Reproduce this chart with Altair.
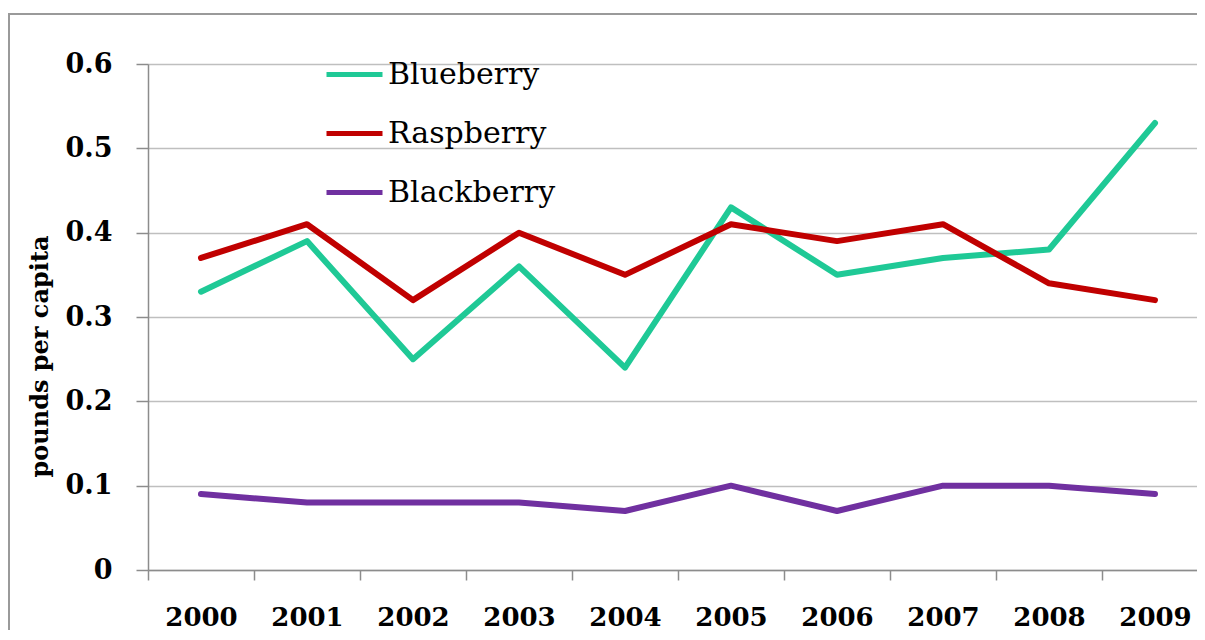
import altair as alt
import pandas as pd

years = ["2000", "2001", "2002", "2003", "2004", "2005", "2006", "2007", "2008", "2009"]
blueberry = [0.33, 0.39, 0.25, 0.36, 0.24, 0.43, 0.35, 0.37, 0.38, 0.53]
raspberry = [0.37, 0.41, 0.32, 0.40, 0.35, 0.41, 0.39, 0.41, 0.34, 0.32]
blackberry = [0.09, 0.08, 0.08, 0.08, 0.07, 0.10, 0.07, 0.10, 0.10, 0.09]

series_names = ["Blueberry", "Raspberry", "Blackberry"]
series_colors = ["#1fc996", "#c00000", "#7030a0"]

rows = []
for name, vals in zip(series_names, [blueberry, raspberry, blackberry]):
    for y, v in zip(years, vals):
        rows.append({"year": y, "value": v, "fruit": name})
df = pd.DataFrame(rows)

W, H = 1049, 506
XR = 1060

frame = alt.Chart(pd.DataFrame({"a": [0]})).mark_rect(
    fill=None, stroke="#9a9a9a", strokeWidth=2, clip=False
).encode(
    x=alt.value(-139), x2=alt.value(W + 200),
    y=alt.value(-50), y2=alt.value(H + 200)
)

lines = alt.Chart(df).mark_line(strokeWidth=6, strokeCap="round", strokeJoin="round").encode(
    x=alt.X("year:N", sort=years,
            scale=alt.Scale(paddingInner=0, paddingOuter=0, range=[0, XR]),
            axis=alt.Axis(title=None, labelAngle=0, tickBand="extent",
                          labelFont="DejaVu Serif", labelFontWeight="bold",
                          labelFontSize=26, labelColor="black", labelPadding=24,
                          labelLimit=0,
                          tickSize=10, tickColor="#8c8c8c", domainColor="#8c8c8c",
                          tickWidth=1.5, domainWidth=1.5, grid=False)),
    y=alt.Y("value:Q", scale=alt.Scale(domain=[0, 0.6]),
            axis=alt.Axis(title="pounds per capita", values=[0, 0.1, 0.2, 0.3, 0.4, 0.5, 0.6],
                          format="~g",
                          titleFont="DejaVu Serif", titleFontWeight="bold", titleFontSize=24,
                          titleColor="black", titleAngle=-90, titleX=-108, titleY=292,
                          titleAlign="center", titleBaseline="middle",
                          labelFont="DejaVu Serif", labelFontWeight="bold",
                          labelFontSize=27, labelColor="black", labelPadding=24,
                          tickSize=12, tickColor="#8c8c8c", domainColor="#8c8c8c",
                          tickWidth=1.5, domainWidth=1.5,
                          grid=True, gridColor="#bfbfbf", gridWidth=1.5)),
    color=alt.Color("fruit:N", sort=series_names,
                    scale=alt.Scale(domain=series_names, range=series_colors),
                    legend=alt.Legend(title=None, orient="none", legendX=176, legendY=-20,
                                      symbolType="stroke", symbolSize=3136,
                                      symbolStrokeWidth=5, labelFont="DejaVu Serif",
                                      labelFontSize=30, labelColor="black",
                                      labelOffset=3, rowPadding=13, labelLimit=0)),
)

chart = alt.layer(frame, lines).properties(
    width=W, height=H,
    autosize=alt.AutoSizeParams(type="none"),
    padding={"left": 140, "top": 56, "right": 0, "bottom": 60},
).configure_view(stroke=None).configure(background="white")

chart.save("out.html", embed_options={"renderer": "svg", "actions": False})
